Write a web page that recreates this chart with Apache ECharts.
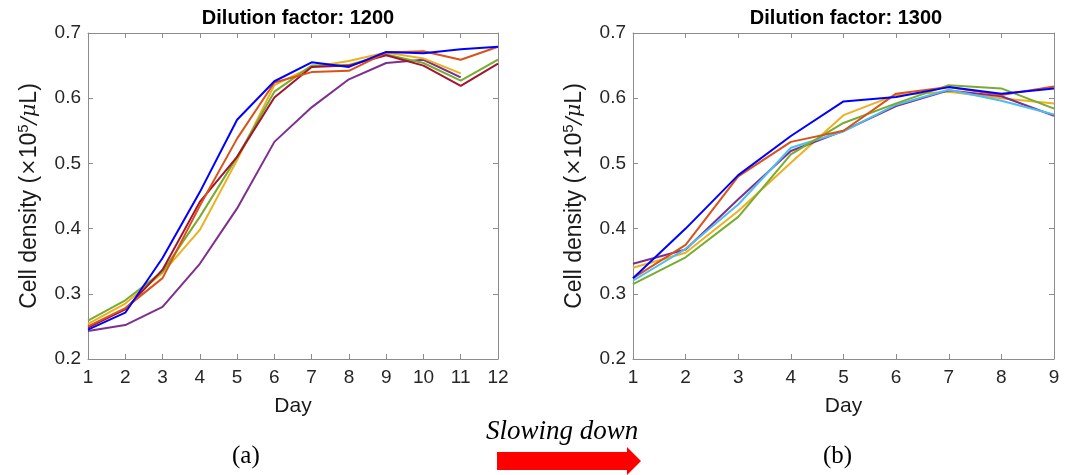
<!DOCTYPE html>
<html>
<head>
    <meta charset="utf-8">
    <title>Dilution factor</title>
    <script src="https://cdn.jsdelivr.net/npm/echarts@6/dist/echarts.min.js"></script>
    <style>
        body { margin: 0; background: #fff; }
        #main { width: 1072px; height: 475px; }
    </style>
</head>
<body>
<div id="main"></div>

<script type="text/javascript">
    // 数据 (a) 稀释 1200, 天数 1..12
    var daysA = [1, 2, 3, 4, 5, 6, 7, 8, 9, 10, 11, 12];
    var blueA   = [0.245, 0.271, 0.355, 0.456, 0.567, 0.626, 0.655, 0.648, 0.671, 0.669, 0.675, 0.679];
    var orangeA = [0.250, 0.278, 0.324, 0.435, 0.538, 0.624, 0.640, 0.642, 0.670, 0.672, 0.659, 0.679];
    var yellowA = [0.254, 0.285, 0.332, 0.398, 0.505, 0.620, 0.648, 0.657, 0.670, 0.661, 0.638];
    var purpleA = [0.243, 0.252, 0.280, 0.346, 0.431, 0.533, 0.586, 0.629, 0.654, 0.659, 0.632];
    var greenA  = [0.259, 0.290, 0.334, 0.418, 0.510, 0.610, 0.650, 0.651, 0.667, 0.654, 0.627, 0.659];
    var redA    = [0.248, 0.276, 0.337, 0.441, 0.510, 0.601, 0.648, 0.650, 0.666, 0.650, 0.619, 0.653];

    // 数据 (b) 稀释 1300, 天数 1..9
    var daysB = [1, 2, 3, 4, 5, 6, 7, 8, 9];
    var blueB   = [0.324, 0.400, 0.482, 0.542, 0.595, 0.602, 0.617, 0.607, 0.615];
    var orangeB = [0.324, 0.375, 0.480, 0.533, 0.550, 0.607, 0.617, 0.605, 0.618];
    var yellowB = [0.340, 0.363, 0.427, 0.501, 0.574, 0.605, 0.610, 0.600, 0.592];
    var purpleB = [0.346, 0.368, 0.445, 0.519, 0.550, 0.588, 0.612, 0.603, 0.573];
    var greenB  = [0.315, 0.356, 0.418, 0.514, 0.562, 0.592, 0.620, 0.615, 0.584];
    var cyanB   = [0.320, 0.369, 0.437, 0.524, 0.549, 0.590, 0.613, 0.596, 0.575];

    var yTicks = [0.2, 0.3, 0.4, 0.5, 0.6, 0.7];

    var C = {
        blue: '#0000ff', orange: '#d95319', yellow: '#edb120',
        purple: '#7e2f8e', green: '#77ac30', cyan: '#4dbeee', red: '#a2142f'
    };

    var font = 'Liberation Sans, Arial, sans-serif';
    var serif = 'Liberation Serif, Times New Roman, serif';
    var axisGray = '#8c8c8c';

    function pairs(days, vals) {
        return vals.map(function (v, i) { return [days[i], v]; });
    }

    function line(name, color, days, vals, gi) {
        return {
            name: name, type: 'line', xAxisIndex: gi * 2, yAxisIndex: gi * 2,
            data: pairs(days, vals), symbol: 'none', silent: true,
            lineStyle: { color: color, width: 2 }, animation: false
        };
    }

    var yName = '{a|Cell density (}{m|×}{a|10}{s|5}{m|/μ}{a|L)}';
    var yRich = {
        a: { fontFamily: font, fontSize: 23, color: '#1a1a1a', lineHeight: 28 },
        m: { fontFamily: 'DejaVu Serif, serif', fontStyle: 'italic', fontSize: 21, color: '#1a1a1a', lineHeight: 28 },
        s: { fontFamily: font, fontSize: 15, color: '#1a1a1a', lineHeight: 28, verticalAlign: 'top' }
    };

    function xAxes(gi, max) {
        var base = {
            type: 'value', gridIndex: gi, min: 1, max: max, interval: 1,
            axisLine: { show: true, lineStyle: { color: axisGray, width: 1 } },
            axisTick: { show: true, inside: true, length: 5, lineStyle: { color: axisGray } },
            splitLine: { show: false }
        };
        return [
            Object.assign({}, base, {
                position: 'bottom', name: 'Day', nameLocation: 'middle', nameGap: 37,
                nameTextStyle: { fontFamily: font, fontSize: 21, color: '#1a1a1a' },
                axisLabel: { fontFamily: font, fontSize: 19, color: '#262626', margin: 9 }
            }),
            Object.assign({}, base, { position: 'top', axisLabel: { show: false } })
        ];
    }

    function yAxes(gi) {
        var base = {
            type: 'value', gridIndex: gi, min: 0.2, max: 0.7, interval: 0.1,
            axisLine: { show: true, lineStyle: { color: axisGray, width: 1 } },
            axisTick: { show: true, inside: true, length: 5, lineStyle: { color: axisGray } },
            splitLine: { show: false }
        };
        return [
            Object.assign({}, base, {
                position: 'left', name: yName, nameLocation: 'middle', nameGap: 44, nameRotate: 90,
                nameTextStyle: { rich: yRich },
                axisLabel: {
                    fontFamily: font, fontSize: 19, color: '#262626', margin: 7,
                    formatter: function (v) { return yTicks.indexOf(Math.round(v * 10) / 10) >= 0 ? v.toFixed(1) : ''; }
                }
            }),
            Object.assign({}, base, { position: 'right', axisLabel: { show: false } })
        ];
    }

    var myChart = echarts.init(document.getElementById('main'), null, { renderer: 'canvas' });

    myChart.setOption({
        animation: false,
        backgroundColor: '#fff',
        title: [
            { text: 'Dilution factor: 1200', left: 293, top: 3, textAlign: 'center',
              textStyle: { fontFamily: font, fontSize: 20, fontWeight: 'bold', color: '#000' } },
            { text: 'Dilution factor: 1300', left: 841, top: 3, textAlign: 'center',
              textStyle: { fontFamily: font, fontSize: 20, fontWeight: 'bold', color: '#000' } }
        ],
        grid: [
            { left: 88, top: 33, width: 410, height: 326 },
            { left: 633, top: 33, width: 421, height: 326 }
        ],
        xAxis: xAxes(0, 12).concat(xAxes(1, 9)),
        yAxis: yAxes(0).concat(yAxes(1)),
        series: [
            line('a-purple', C.purple, daysA, purpleA, 0),
            line('a-yellow', C.yellow, daysA, yellowA, 0),
            line('a-green', C.green, daysA, greenA, 0),
            line('a-red', C.red, daysA, redA, 0),
            line('a-orange', C.orange, daysA, orangeA, 0),
            line('a-blue', C.blue, daysA, blueA, 0),

            line('b-yellow', C.yellow, daysB, yellowB, 1),
            line('b-purple', C.purple, daysB, purpleB, 1),
            line('b-cyan', C.cyan, daysB, cyanB, 1),
            line('b-green', C.green, daysB, greenB, 1),
            line('b-orange', C.orange, daysB, orangeB, 1),
            line('b-blue', C.blue, daysB, blueB, 1)
        ],
        graphic: [
            { type: 'text', left: 232, top: 444, style: { text: '(a)', font: '25px ' + serif, fill: '#000' } },
            { type: 'text', left: 823, top: 444, style: { text: '(b)', font: '25px ' + serif, fill: '#000' } },
            { type: 'text', left: 486, top: 418, style: { text: 'Slowing down', font: 'italic 27px ' + serif, fill: '#000' } },
            // 红色箭头
            { type: 'polygon', shape: { points: [[497, 452], [627, 452], [627, 447], [641, 461], [627, 475], [627, 470], [497, 470]] },
              style: { fill: '#ff0000' } }
        ]
    });
</script>
</body>
</html>
